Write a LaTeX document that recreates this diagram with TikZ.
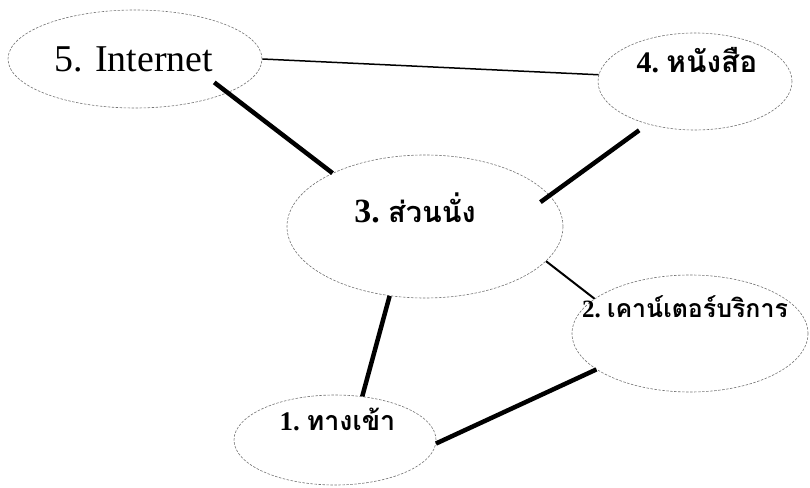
\documentclass[tikz,border=0pt]{standalone}
\usepackage{fontspec}
\setmainfont{Liberation Serif}
\newfontfamily\thaifont[Script=Thai]{Loma}
\usetikzlibrary{shapes.geometric}

\begin{document}
\begin{tikzpicture}[x=1bp,y=-1bp,
  spot/.style={ellipse,draw=black!55,line width=0.6bp,dash pattern=on 2.5bp off 1.5bp,inner sep=0pt},
  lbl/.style={anchor=base,inner sep=0pt},
  weak/.style={line width=1.5bp},
  link/.style={line width=2bp},
  strong/.style={line width=4.5bp}]
  \useasboundingbox (0,0) rectangle (810,488);
  % Zones
  \node[spot,minimum width=254bp,minimum height=98bp] (net) at (135,59) {};
  \node[spot,minimum width=194bp,minimum height=97bp] (book) at (695,81.5) {};
  \node[spot,minimum width=276bp,minimum height=143bp] (sit) at (425,226.5) {};
  \node[spot,minimum width=236bp,minimum height=117bp] (desk) at (690,333.5) {};
  \node[spot,minimum width=202bp,minimum height=90bp] (door) at (335,440) {};
  % Labels
  \node[lbl,font=\fontsize{38}{40}\selectfont] (net-t) at (133.5,72) {5. Internet};
  \node[lbl,font=\fontsize{30}{32}\selectfont\bfseries] (book-t) at (697,73) {4.\ {\thaifont หนังสือ}};
  \node[lbl,font=\fontsize{34}{36}\selectfont\bfseries] (sit-t) at (415,223) {3.\ {\thaifont\fontsize{29}{31}\selectfont ส่วนนั่ง}};
  \node[lbl,font=\fontsize{25}{27}\selectfont\bfseries] (desk-t) at (685,318) {2.\ {\thaifont เคาน์เตอร์บริการ}};
  \node[lbl,font=\fontsize{27}{29}\selectfont\bfseries] (door-t) at (337.5,430) {1.\ {\thaifont ทางเข้า}};
  % Links
  \draw[weak] (net.0) -- (book.176);
  \draw[strong,shorten <=-17bp] (net.-20.5) -- (sit.150);
  \draw[strong,shorten <=10.5bp,shorten >=-11.4bp] (book.-138) -- (sit.14);
  \draw[link] (sit.-16) -- (desk.160.5);
  \draw[strong] (sit.-117) -- (door.58);
  \draw[strong] (door.-2) -- (desk.-159);
\end{tikzpicture}
\end{document}
